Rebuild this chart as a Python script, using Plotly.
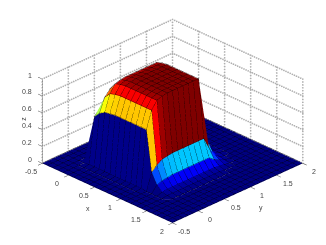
import plotly.graph_objects as go

x_vals = [-0.5,-0.4,-0.3,-0.2,-0.1,0.0,0.1,0.2,0.3,0.4,0.5,0.6,0.7,0.8,0.9,1.0,1.1,1.2,1.3,1.4,1.5,1.6,1.7,1.8,1.9,2.0]
y_vals = list(x_vals)
x_ticks = [-0.5,0,0.5,1,1.5,2]
y_ticks = [-0.5,0,0.5,1,1.5,2]
z_ticks = [0,0.2,0.4,0.6,0.8,1]

# z_rows[i][j]: height at x_vals[i], y_vals[j]
z_rows = [
 [0]*26,
 [0]*26,
 [0]*26,
 [0]*26,
 [0,0,0,0,0,.01,.01,.01,.01,.01,.01,.01,.01,.01,.01,.01,0,0,0,0,0,0,0,0,0,0],
 [0,0,0,0,.01,.55,.62,.66,.67,.68,.68,.68,.68,.68,.68,.68,.25,.09,.02,.01,0,0,0,0,0,0],
 [0,0,0,0,.01,.62,.78,.85,.87,.88,.88,.88,.88,.88,.88,.88,.29,.11,.03,.01,0,0,0,0,0,0],
 [0,0,0,0,.01,.66,.85,.94,.96,.97,.97,.97,.97,.97,.97,.97,.31,.12,.03,.01,0,0,0,0,0,0],
 [0,0,0,0,.01,.67,.87,.96,.98,.99,.99,.99,.99,.99,.99,.99,.32,.12,.03,.01,0,0,0,0,0,0],
 [0,0,0,0,.01,.68,.88,.97,.99,1,1,1,1,1,1,1,.32,.12,.03,.01,0,0,0,0,0,0],
 [0,0,0,0,.01,.68,.88,.97,.99,1,1,1,1,1,1,1,.32,.12,.03,.01,0,0,0,0,0,0],
 [0,0,0,0,.01,.68,.88,.97,.99,1,1,1,1,1,1,1,.32,.12,.03,.01,0,0,0,0,0,0],
 [0,0,0,0,.01,.68,.88,.97,.99,1,1,1,1,1,1,1,.32,.12,.03,.01,0,0,0,0,0,0],
 [0,0,0,0,.01,.68,.88,.97,.99,1,1,1,1,1,1,1,.32,.12,.03,.01,0,0,0,0,0,0],
 [0,0,0,0,.01,.68,.88,.97,.99,1,1,1,1,1,1,1,.32,.12,.03,.01,0,0,0,0,0,0],
 [0,0,0,0,.01,.68,.88,.97,.99,1,1,1,1,1,1,1,.32,.12,.03,.01,0,0,0,0,0,0],
 [0,0,0,0,0,.20,.26,.30,.31,.32,.32,.32,.32,.32,.32,.32,.18,.07,.02,0,0,0,0,0,0,0],
 [0,0,0,0,0,.08,.10,.11,.12,.12,.12,.12,.12,.12,.12,.12,.07,.04,.01,0,0,0,0,0,0,0],
 [0,0,0,0,0,.02,.03,.03,.03,.03,.03,.03,.03,.03,.03,.03,.02,.01,0,0,0,0,0,0,0,0],
 [0,0,0,0,0,.01,.01,.01,.01,.01,.01,.01,.01,.01,.01,.01,0,0,0,0,0,0,0,0,0,0],
 [0]*26,
 [0]*26,
 [0]*26,
 [0]*26,
 [0]*26,
 [0]*26,
]

def jet(v):
    def c(t):
        return max(0.0, min(1.0, 1.5 - abs(4*t)))
    r = c(v - 0.75); g = c(v - 0.5); b = c(v - 0.25)
    return f"rgb({int(r*255)},{int(g*255)},{int(b*255)})"

nx, ny = len(x_vals), len(y_vals)
vx, vy, vz = [], [], []
for i in range(nx):
    for j in range(ny):
        vx.append(x_vals[i]); vy.append(y_vals[j]); vz.append(z_rows[i][j])
I, J, K, fc = [], [], [], []
for i in range(nx-1):
    for j in range(ny-1):
        a = i*ny+j; b = (i+1)*ny+j; c = (i+1)*ny+j+1; d = i*ny+j+1
        col = jet(z_rows[i][j])
        I += [a, a]; J += [b, c]; K += [c, d]; fc += [col, col]

fig = go.Figure()
fig.add_trace(go.Mesh3d(x=vx, y=vy, z=vz, i=I, j=J, k=K, facecolor=fc, flatshading=True,
    lighting=dict(ambient=1, diffuse=0, specular=0, fresnel=0, roughness=1), hoverinfo="skip", showscale=False))

# mesh lines, nudged towards the viewer so they stay in front of the facets
e = 0.012
lx, ly, lz = [], [], []
for i in range(nx):
    lx += [x_vals[i]+e]*ny + [None]; ly += [v-e for v in y_vals] + [None]; lz += [v+e for v in z_rows[i]] + [None]
for j in range(ny):
    lx += [v+e for v in x_vals] + [None]; ly += [y_vals[j]-e]*nx + [None]; lz += [z_rows[i][j]+e for i in range(nx)] + [None]
fig.add_trace(go.Scatter3d(x=lx, y=ly, z=lz, mode="lines", line=dict(color="rgba(0,0,0,0.55)", width=1), hoverinfo="skip", showlegend=False))

# dotted back grid, drawn as rows of tiny dots
x0, x1 = x_ticks[0], x_ticks[-1]
y0, y1 = y_ticks[0], y_ticks[-1]
z0, z1 = z_ticks[0], z_ticks[-1]
gx, gy, gz = [], [], []
def dots(a, b, n):
    for k in range(n+1):
        gx.append(a[0]+(b[0]-a[0])*k/n); gy.append(a[1]+(b[1]-a[1])*k/n); gz.append(a[2]+(b[2]-a[2])*k/n)
for t in x_ticks:
    dots((t, y1, z0), (t, y1, z1), 29)
for t in y_ticks:
    dots((x0, t, z0), (x0, t, z1), 29)
for t in z_ticks:
    dots((x0, y0, t), (x0, y1, t), 62)
    dots((x0, y1, t), (x1, y1, t), 62)
fig.add_trace(go.Scatter3d(x=gx, y=gy, z=gz, mode="markers", marker=dict(color="#b0b0b0", size=1, line=dict(width=0)), hoverinfo="skip", showlegend=False))

# solid z axis and tick marks
tl = 0.08
sx, sy, sz = [x0, x0, None], [y0, y0, None], [z0, z1, None]
for t in z_ticks:
    sx += [x0, x0-tl, None]; sy += [y0, y0, None]; sz += [t, t, None]
for t in x_ticks:
    sx += [t, t, None]; sy += [y0, y0-tl, None]; sz += [z0, z0, None]
for t in y_ticks:
    sx += [x1, x1+tl, None]; sy += [t, t, None]; sz += [z0, z0, None]
fig.add_trace(go.Scatter3d(x=sx, y=sy, z=sz, mode="lines", line=dict(color="#505050", width=1), hoverinfo="skip", showlegend=False))

font = dict(family="Liberation Sans", size=7, color="#444444")
ann = []
def A(x, y, z, text, dx, dy, **kw):
    ann.append(dict(x=x, y=y, z=z, text=text, showarrow=False, xshift=dx, yshift=-dy, font=font, **kw))
for t in x_ticks:
    A(t, y0, z0, f"{t:g}", -11, 8)
for t in y_ticks:
    A(x1, t, z0, f"{t:g}", 11, 8)
for t in z_ticks:
    A(x0, y0, t, f"{t:g}", -8, -4, xanchor="right")
A(0.75, y0, z0, "x", -20, 15)
A(x1, 0.75, z0, "y", 23, 15)
A(x0, y0, 0.5, "z", -19, -3, textangle=-90)

def ax(rng):
    return dict(range=rng, showticklabels=False, ticks="",
                showgrid=False, zeroline=False, showbackground=False, showspikes=False, showline=False,
                title=dict(text=""))

fig.update_layout(
    width=326, height=245, margin=dict(l=0, r=0, t=0, b=0), paper_bgcolor="white", showlegend=False,
    scene=dict(
        domain=dict(x=[0.01, 1], y=[0.016, 1]),
        xaxis=ax([x0-tl, x1+tl]), yaxis=ax([y0-tl, y1+tl]), zaxis=ax([z0, z1+0.03]),
        aspectmode="manual", aspectratio=dict(x=1.627, y=1.627, z=0.81),
        camera=dict(projection=dict(type="orthographic"), center=dict(x=0, y=0, z=-0.08),
                    eye=dict(x=1.25, y=-1.25, z=0.83), up=dict(x=0, y=0, z=1)),
        annotations=ann,
    ),
)
fig.write_html("out.html")
